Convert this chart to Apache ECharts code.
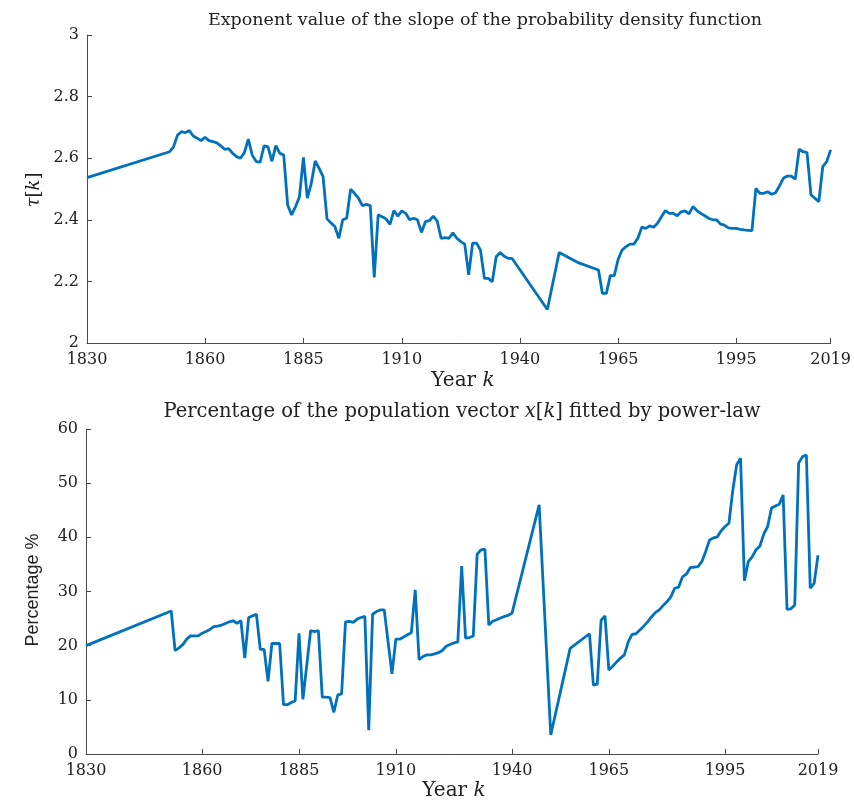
<!DOCTYPE html>
<html>
<head>
<meta charset="utf-8">
<script src="https://cdn.jsdelivr.net/npm/echarts@6.0.0/dist/echarts.min.js"></script>
<style>
  html, body { margin: 0; padding: 0; background: #fff; }
  #chart { width: 854px; height: 802px; }
</style>
</head>
<body>
<div id="chart"></div>
<script>
// ---------- data ----------
var tauYears = [
  1830,
  1851,1852,1853,1854,1855,1856,1857,1858,1859,1860,
  1861,1862,1863,1864,1865,1866,1867,1868,1869,1870,
  1871,1872,1873,1874,1875,1876,1877,1878,1879,1880,
  1881,1882,1883,1884,1885,1886,1887,1888,1889,1890,
  1891,1892,1893,1894,1895,1896,1897,1898,1899,1900,
  1901,1902,1903,1904,1905,1906,1907,1908,1909,1910,
  1911,1912,1913,1914,1915,1916,1917,1918,1919,1920,
  1921,1922,1923,1924,1925,1926,1927,1928,1929,1930,
  1931,1932,1933,1934,1935,1936,1937,1938,
  1947,1950,1955,1960,
  1961,1962,1963,1964,1965,1966,1967,1968,1969,1970,
  1971,1972,1973,1974,1975,1976,1977,1978,1979,1980,
  1981,1982,1983,1984,1985,1986,1987,1988,1989,1990,
  1991,1992,1993,1994,1995,1996,1997,1998,1999,2000,
  2001,2002,2003,2004,2005,2006,2007,2008,2009,2010,
  2011,2012,2013,2014,2015,2016,2017,2018,2019
];
var tauValues = [
  2.537,
  2.621,2.637,2.675,2.686,2.683,2.690,2.672,2.665,2.657,2.668,
  2.657,2.654,2.650,2.640,2.629,2.631,2.616,2.605,2.600,2.618,
  2.662,2.610,2.589,2.587,2.640,2.637,2.590,2.641,2.616,2.610,
  2.448,2.416,2.443,2.475,2.603,2.470,2.518,2.591,2.567,2.540,
  2.403,2.390,2.378,2.340,2.400,2.405,2.499,2.486,2.470,2.446,
  2.450,2.446,2.213,2.416,2.410,2.403,2.385,2.430,2.412,2.429,
  2.421,2.400,2.405,2.400,2.359,2.394,2.397,2.412,2.396,2.340,
  2.342,2.340,2.358,2.340,2.329,2.321,2.221,2.324,2.324,2.302,
  2.210,2.210,2.199,2.280,2.294,2.282,2.275,2.275,
  2.109,2.294,2.260,2.237,
  2.161,2.161,2.219,2.219,2.272,2.302,2.313,2.321,2.321,2.340,
  2.376,2.372,2.380,2.376,2.389,2.410,2.430,2.421,2.421,2.413,
  2.426,2.429,2.419,2.443,2.430,2.421,2.413,2.405,2.400,2.400,
  2.386,2.383,2.374,2.372,2.372,2.369,2.367,2.366,2.365,2.502,
  2.486,2.486,2.491,2.483,2.488,2.510,2.535,2.542,2.542,2.532,
  2.629,2.621,2.618,2.481,2.470,2.459,2.573,2.589,2.627
];

var pctYears = [
  1830,
  1852,1853,1854,1855,1856,1857,1858,1859,1860,
  1861,1862,1863,1864,1865,1866,1867,1868,1869,1870,
  1871,1872,1873,1874,1875,1876,1877,1878,1879,1880,
  1881,1882,1883,1884,1885,1886,1887,1888,1889,1890,
  1891,1892,1893,1894,1895,1896,1897,1898,1899,1900,
  1901,1902,1903,1904,1905,1906,1907,1908,1909,1910,
  1911,1912,1913,1914,1915,1916,1917,1918,1919,1920,
  1921,1922,1923,1924,1925,1926,1927,1928,1929,1930,
  1931,1932,1933,1934,1935,1936,1937,1938,1939,1940,
  1947,1950,1955,1960,
  1961,1962,1963,1964,1965,1966,1967,1968,1969,1970,
  1971,1972,1973,1974,1975,1976,1977,1978,1979,1980,
  1981,1982,1983,1984,1985,1986,1987,1988,1989,1990,
  1991,1992,1993,1994,1995,1996,1997,1998,1999,2000,
  2001,2002,2003,2004,2005,2006,2007,2008,2009,2010,
  2011,2012,2013,2014,2015,2016,2017,2018,2019
];
var pctValues = [
  20.0,
  26.4,19.1,19.6,20.2,21.2,21.8,21.8,21.8,22.3,
  22.6,23.0,23.5,23.6,23.8,24.1,24.4,24.6,24.1,24.6,
  17.7,25.2,25.5,25.8,19.3,19.3,13.4,20.4,20.4,20.4,
  9.1,9.1,9.5,9.8,22.3,10.1,16.4,22.8,22.6,22.8,
  10.5,10.5,10.4,7.7,10.9,11.1,24.4,24.5,24.3,24.9,
  25.2,25.4,4.4,25.8,26.3,26.6,26.6,20.7,14.8,21.2,
  21.2,21.6,22.0,22.4,30.3,17.4,18.0,18.3,18.3,18.5,
  18.7,19.1,19.9,20.2,20.5,20.7,34.7,21.4,21.5,21.8,
  36.9,37.7,37.8,23.8,24.5,24.8,25.1,25.4,25.6,26.0,
  46.0,3.5,19.5,22.2,
  12.7,12.9,24.7,25.5,15.5,16.2,17.0,17.7,18.3,20.7,
  22.1,22.2,22.9,23.6,24.4,25.3,26.1,26.6,27.4,28.1,
  29.0,30.6,30.8,32.7,33.2,34.4,34.5,34.6,35.5,37.4,
  39.5,39.9,40.1,41.2,42.0,42.6,48.7,53.4,54.6,32.0,
  35.5,36.4,37.7,38.4,40.6,42.0,45.4,45.8,46.1,47.8,
  26.7,26.8,27.5,53.7,54.9,55.2,30.6,31.5,36.7
];

var xTickYears = [1830, 1860, 1885, 1910, 1940, 1965, 1995, 2019];

var topTitle = 'Exponent value of the slope of the probability density function';
var bottomTitleRich = '{b|Percentage of the population vector }{bi|x}{b|[}{bi|k}{b|] fitted by power-law}';

// ---------- styling ----------
var SERIF = '"DejaVu Serif", serif';
var AXIS_COLOR = '#4a4a4a';
var TEXT_COLOR = '#222222';
var LINE_COLOR = '#0072BD';

function pairs(xs, ys) {
  var out = [];
  for (var i = 0; i < xs.length; i++) out.push([xs[i], ys[i]]);
  return out;
}

function xAxisCfg(gridIndex) {
  return {
    type: 'value', gridIndex: gridIndex, min: 1830, max: 2019,
    axisLine: { show: true, onZero: false, lineStyle: { color: AXIS_COLOR, width: 1 } },
    axisTick: { show: true, inside: true, length: 5, customValues: xTickYears,
                lineStyle: { color: AXIS_COLOR } },
    axisLabel: { customValues: xTickYears, margin: 9, color: TEXT_COLOR,
                 fontFamily: SERIF, fontSize: 16,
                 formatter: function (v) { return String(v); } },
    splitLine: { show: false }
  };
}
function yAxisCfg(gridIndex, min, max, interval) {
  return {
    type: 'value', gridIndex: gridIndex, min: min, max: max, interval: interval,
    axisLine: { show: true, onZero: false, lineStyle: { color: AXIS_COLOR, width: 1 } },
    axisTick: { show: true, inside: true, length: 5, lineStyle: { color: AXIS_COLOR } },
    axisLabel: { margin: 8, color: TEXT_COLOR, fontFamily: SERIF, fontSize: 16 },
    splitLine: { show: false }
  };
}

var richBase = {
  t: { fontFamily: SERIF, fontSize: 17.5, fill: TEXT_COLOR },
  b: { fontFamily: SERIF, fontSize: 19.5, fill: TEXT_COLOR },
  bi: { fontFamily: SERIF, fontSize: 19.5, fontStyle: 'italic', fill: TEXT_COLOR },
  n: { fontFamily: SERIF, fontSize: 20, fill: TEXT_COLOR },
  i: { fontFamily: SERIF, fontSize: 20, fontStyle: 'italic', fill: TEXT_COLOR },
  yn: { fontFamily: SERIF, fontSize: 18, fill: TEXT_COLOR },
  yi: { fontFamily: SERIF, fontSize: 18, fontStyle: 'italic', fill: TEXT_COLOR }
};

function label(text, x, y, rotation, extra) {
  var style = Object.assign({
    text: text, x: 0, y: 0, align: 'center', verticalAlign: 'middle',
    fill: TEXT_COLOR, fontFamily: SERIF, fontSize: 16, rich: richBase
  }, extra || {});
  return { type: 'text', x: x, y: y, rotation: rotation || 0, style: style, silent: true };
}

var chart = echarts.init(document.getElementById('chart'), null, { renderer: 'canvas' });
chart.setOption({
  animation: false,
  backgroundColor: '#ffffff',
  grid: [
    { left: 87, top: 35, width: 745, height: 308, containLabel: false },
    { left: 86, top: 429, width: 732, height: 325, containLabel: false }
  ],
  xAxis: [xAxisCfg(0), xAxisCfg(1)],
  yAxis: [yAxisCfg(0, 2, 3, 0.2), yAxisCfg(1, 0, 60, 10)],
  series: [
    { type: 'line', xAxisIndex: 0, yAxisIndex: 0, data: pairs(tauYears, tauValues),
      showSymbol: false, lineStyle: { color: LINE_COLOR, width: 2.8 }, itemStyle: { color: LINE_COLOR } },
    { type: 'line', xAxisIndex: 1, yAxisIndex: 1, data: pairs(pctYears, pctValues),
      showSymbol: false, lineStyle: { color: LINE_COLOR, width: 2.8 }, itemStyle: { color: LINE_COLOR } }
  ],
  graphic: [
    label('{t|' + topTitle + '}', 485, 20, 0),
    label('{n|Year }{i|k}', 463, 381, 0),
    label('{yi|τ}{yn|[}{yi|k}{yn|]}', 34, 190, Math.PI / 2),
    label(bottomTitleRich, 462, 412, 0),
    label('{n|Year }{i|k}', 454, 791, 0),
    label('Percentage %', 33, 590, Math.PI / 2,
          { fontFamily: '"Liberation Sans", Arial, sans-serif', fontSize: 18, rich: undefined })
  ]
});
</script>
</body>
</html>
